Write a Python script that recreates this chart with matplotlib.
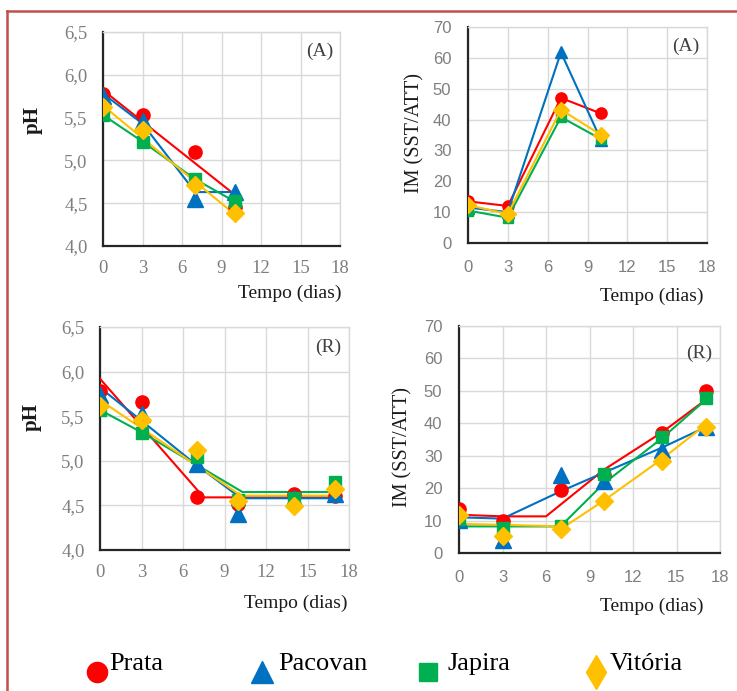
import matplotlib
matplotlib.use("Agg")
import matplotlib.pyplot as plt
from matplotlib.lines import Line2D

# ---- data -------------------------------------------------------------
cultivars = ["Prata", "Pacovan", "Japira", "Vitória"]
colors = ["#FF0000", "#0070C0", "#00B050", "#FFC000"]
markers = ["o", "^", "s", "D"]

x_ticks = [0, 3, 6, 9, 12, 15, 18]
ph_ticks = [4.0, 4.5, 5.0, 5.5, 6.0, 6.5]
ph_tick_labels = ["4,0", "4,5", "5,0", "5,5", "6,0", "6,5"]
im_ticks = [0, 10, 20, 30, 40, 50, 60, 70]

# (A) storage – observed pH
days_a = [0, 3, 7, 10]
ph_a = {
    "Prata":   [5.78, 5.53, 5.10, 4.45],
    "Pacovan": [5.75, 5.46, 4.55, 4.63],
    "Japira":  [5.53, 5.21, 4.78, 4.52],
    "Vitória": [5.62, 5.36, 4.71, 4.39],
}
# (A) storage – fitted pH curves
ph_a_fit_x = {
    "Prata":   [0, 10],
    "Pacovan": [0, 3, 7, 10],
    "Japira":  [0, 3, 7, 10],
    "Vitória": [0, 10],
}
ph_a_fit_y = {
    "Prata":   [5.82, 4.60],
    "Pacovan": [5.78, 5.43, 4.63, 4.63],
    "Japira":  [5.53, 5.22, 4.78, 4.52],
    "Vitória": [5.64, 4.37],
}

# (A) storage – maturity index
im_a = {
    "Prata":   [13.5, 12.0, 47.0, 42.0],
    "Pacovan": [11.5, 10.0, 61.8, 33.5],
    "Japira":  [10.5, 8.2, 40.8, 33.7],
    "Vitória": [12.3, 9.4, 43.2, 35.1],
}

# (R) storage – observed pH
days_r = [0, 3, 7, 10, 14, 17]
ph_r = {
    "Prata":   [5.78, 5.66, 4.59, 4.52, 4.63, 4.60],
    "Pacovan": [5.74, 5.53, 4.96, 4.40, 4.58, 4.63],
    "Japira":  [5.57, 5.31, 5.04, 4.56, 4.58, 4.76],
    "Vitória": [5.61, 5.46, 5.12, 4.55, 4.49, 4.68],
}
# (R) storage – fitted pH curves
ph_r_fit_x = {
    "Prata":   [0, 7.5, 17],
    "Pacovan": [0, 3, 7, 10.2, 17],
    "Japira":  [0, 3, 10.3, 17],
    "Vitória": [0, 10.2, 17],
}
ph_r_fit_y = {
    "Prata":   [5.92, 4.59, 4.59],
    "Pacovan": [5.82, 5.45, 4.95, 4.58, 4.58],
    "Japira":  [5.57, 5.32, 4.65, 4.65],
    "Vitória": [5.68, 4.61, 4.61],
}

# (R) storage – observed maturity index
im_r = {
    "Prata":   [13.7, 9.8, 19.5, 24.0, 37.0, 50.0],
    "Pacovan": [10.3, 4.1, 24.1, 22.1, 31.8, 38.8],
    "Japira":  [10.5, 7.7, 8.4, 24.4, 35.9, 47.7],
    "Vitória": [11.8, 5.3, 7.5, 15.9, 28.5, 39.0],
}
# (R) storage – fitted maturity index curves
im_r_fit_x = {
    "Prata":   [0, 3, 6, 10, 14, 17],
    "Pacovan": [0, 3, 7, 10, 14, 17],
    "Japira":  [0, 7, 10, 14, 17],
    "Vitória": [0, 7.3, 10, 14, 17],
}
im_r_fit_y = {
    "Prata":   [11.8, 11.3, 11.3, 25.7, 37.2, 47.2],
    "Pacovan": [11.0, 10.6, 19.0, 24.8, 32.5, 38.8],
    "Japira":  [8.2, 8.2, 21.5, 35.4, 47.2],
    "Vitória": [9.0, 8.2, 16.2, 29.0, 39.5],
}

# ---- style ------------------------------------------------------------
SERIF = ["Liberation Serif", "DejaVu Serif"]
SANS = ["Liberation Sans", "DejaVu Sans"]
GRID = "#D9D9D9"
TICK = "#7F7F7F"
msizes = {"o": 9.5, "^": 11, "s": 8.5, "D": 9.5}

fig = plt.figure(figsize=(7.37, 6.91), dpi=100)
W, H = 737, 691


def box(l, r, t, b):
    return [l / W, 1 - b / H, (r - l) / W, (b - t) / H]


def style_axes(ax, ylim, yticks, ylabels, tick_family, size, xpad, ypad):
    ax.set_xlim(0, 18)
    ax.set_ylim(*ylim)
    ax.set_xticks(x_ticks)
    ax.set_yticks(yticks)
    ax.set_yticklabels(ylabels)
    ax.grid(True, color=GRID, lw=1.0)
    ax.set_axisbelow(True)
    for side in ("top", "right"):
        ax.spines[side].set_color(GRID)
        ax.spines[side].set_linewidth(1.0)
    for side in ("left", "bottom"):
        ax.spines[side].set_color("#262626")
        ax.spines[side].set_linewidth(1.6)
    ax.tick_params(length=0, labelsize=size, colors=TICK)
    ax.tick_params(axis="x", pad=xpad)
    ax.tick_params(axis="y", pad=ypad)
    for lab in ax.get_xticklabels() + ax.get_yticklabels():
        lab.set_family(tick_family)


def draw_markers(ax, days, values, scale=1.0):
    for name, col, mk in zip(cultivars, colors, markers):
        ax.plot(days, values[name], linestyle="none", marker=mk,
                color=col, markersize=msizes[mk] * scale, zorder=4)


def draw_fits(ax, fx, fy):
    for name, col in zip(cultivars, colors):
        ax.plot(fx[name], fy[name], color=col, lw=1.5, zorder=3)


def panel_tag(ax, s, y):
    ax.text(0.97, y, s, transform=ax.transAxes, ha="right", va="center",
            family=SERIF, fontsize=14, color="#404040")


# Panel 1: pH, storage A
ax1 = fig.add_axes(box(103, 340, 32, 246))
style_axes(ax1, (4.0, 6.5), ph_ticks, ph_tick_labels, SERIF, 13.5, 10, 11)
draw_fits(ax1, ph_a_fit_x, ph_a_fit_y)
draw_markers(ax1, days_a, ph_a)
panel_tag(ax1, "(A)", 0.91)

# Panel 2: maturity index, storage A
ax2 = fig.add_axes(box(468, 707, 27, 243))
style_axes(ax2, (0, 70), im_ticks, [str(v) for v in im_ticks], SANS, 12, 12, 12)
for name, col, mk in zip(cultivars, colors, markers):
    ax2.plot(days_a, im_a[name], color=col, lw=1.5, marker=mk,
             markersize=msizes[mk] * 0.85, zorder=3)
panel_tag(ax2, "(A)", 0.91)

# Panel 3: pH, storage R
ax3 = fig.add_axes(box(100, 349, 327, 550))
style_axes(ax3, (4.0, 6.5), ph_ticks, ph_tick_labels, SERIF, 13.5, 10, 11)
draw_fits(ax3, ph_r_fit_x, ph_r_fit_y)
draw_markers(ax3, days_r, ph_r)
panel_tag(ax3, "(R)", 0.91)

# Panel 4: maturity index, storage R
ax4 = fig.add_axes(box(459, 720, 326, 553))
style_axes(ax4, (0, 70), im_ticks, [str(v) for v in im_ticks], SANS, 12, 12, 12)
draw_fits(ax4, im_r_fit_x, im_r_fit_y)
draw_markers(ax4, days_r, im_r)
panel_tag(ax4, "(R)", 0.88)


# Axis titles
def ftext(x, y, s, color="#1a1a1a", **kw):
    fig.text(x / W, 1 - y / H, s, family=SERIF, color=color, **kw)


ftext(33, 120, "pH", fontsize=15, fontweight="bold", rotation=90, ha="center", va="center")
ftext(32, 417, "pH", fontsize=15, fontweight="bold", rotation=90, ha="center", va="center")
ftext(415, 133, "IM (SST/ATT)", fontsize=14.5, rotation=90, ha="center", va="center")
ftext(403, 447, "IM (SST/ATT)", fontsize=14.5, rotation=90, ha="center", va="center")
ftext(341, 293, "Tempo (dias)", fontsize=14, ha="right", va="center")
ftext(704, 296, "Tempo (dias)", fontsize=14, ha="right", va="center")
ftext(348, 603, "Tempo (dias)", fontsize=14, ha="right", va="center")
ftext(704, 606, "Tempo (dias)", fontsize=14, ha="right", va="center")

# Legend row
legend_marker_x = [97, 262, 428, 596]
legend_text_x = [109, 278, 448, 610]
legend_markers = ["o", "^", "s", "d"]
legend_msize = {"o": 14.5, "^": 16, "s": 13, "d": 17}
for name, col, mk, mx, tx in zip(cultivars, colors, legend_markers,
                                 legend_marker_x, legend_text_x):
    fig.add_artist(Line2D([mx / W], [1 - 672 / H], marker=mk, color=col,
                          markersize=legend_msize[mk], linestyle="none"))
    ftext(tx, 664, name, fontsize=19, ha="left", va="center", color="#000000")

# Frame lines on the left and top
fig.add_artist(Line2D([7 / W, 7 / W], [0, 1 - 11 / H], color="#C0504D", lw=1.8))
fig.add_artist(Line2D([7 / W, 1], [1 - 11 / H, 1 - 11 / H], color="#C0504D", lw=1.8))

fig.savefig("out.png", dpi=100)
